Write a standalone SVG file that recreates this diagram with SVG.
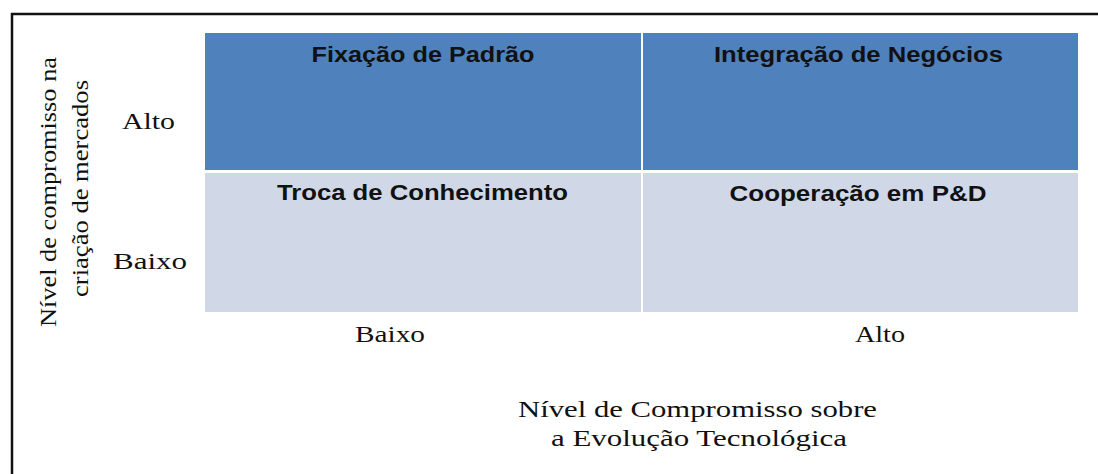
<svg xmlns="http://www.w3.org/2000/svg" width="1098" height="474" viewBox="0 0 1098 474">
<style>
.hd{font-family:"Liberation Sans",Arial,sans-serif;font-weight:bold;font-size:22px;fill:#111;text-anchor:middle}
.sr{font-family:"Liberation Serif","Times New Roman",serif;font-size:24px;fill:#111;text-anchor:middle}
.dark{fill:#4F81BD}
.light{fill:#D0D8E8}
</style>
<rect x="0" y="0" width="1098" height="474" fill="#ffffff"/>
<g id="frame" stroke="#111" stroke-width="2.5" fill="none">
<line x1="11" y1="14" x2="1098" y2="14"/>
<line x1="12" y1="13" x2="12" y2="474"/>
</g>
<g id="connectors"></g>
<g id="cell-fixacao">
<rect class="dark" x="205" y="33" width="436" height="137"/>
<text class="hd" x="423" y="62" textLength="223" lengthAdjust="spacingAndGlyphs">Fixação de Padrão</text>
</g>
<g id="cell-integracao">
<rect class="dark" x="643" y="33" width="435" height="137"/>
<text class="hd" x="858.5" y="62" textLength="289" lengthAdjust="spacingAndGlyphs">Integração de Negócios</text>
</g>
<g id="cell-troca">
<rect class="light" x="205" y="173" width="436" height="139"/>
<text class="hd" x="422.5" y="200" textLength="291" lengthAdjust="spacingAndGlyphs">Troca de Conhecimento</text>
</g>
<g id="cell-cooperacao">
<rect class="light" x="643" y="173" width="435" height="139"/>
<text class="hd" x="858" y="201" textLength="257" lengthAdjust="spacingAndGlyphs">Cooperação em P&amp;D</text>
</g>
<g id="y-axis">
<text class="sr" transform="translate(56,192) rotate(-90)" textLength="270" lengthAdjust="spacingAndGlyphs">Nível de compromisso na</text>
<text class="sr" transform="translate(88,188.5) rotate(-90)" textLength="217" lengthAdjust="spacingAndGlyphs">criação de mercados</text>
<text class="sr" x="148.5" y="129" textLength="53" lengthAdjust="spacingAndGlyphs">Alto</text>
<text class="sr" x="150" y="269" textLength="74" lengthAdjust="spacingAndGlyphs">Baixo</text>
</g>
<g id="x-axis">
<text class="sr" x="390" y="342" textLength="70" lengthAdjust="spacingAndGlyphs">Baixo</text>
<text class="sr" x="880" y="342" textLength="50" lengthAdjust="spacingAndGlyphs">Alto</text>
<text class="sr" x="697.5" y="417" textLength="359" lengthAdjust="spacingAndGlyphs">Nível de Compromisso sobre</text>
<text class="sr" x="699" y="446" textLength="296" lengthAdjust="spacingAndGlyphs">a Evolução Tecnológica</text>
</g>
</svg>
